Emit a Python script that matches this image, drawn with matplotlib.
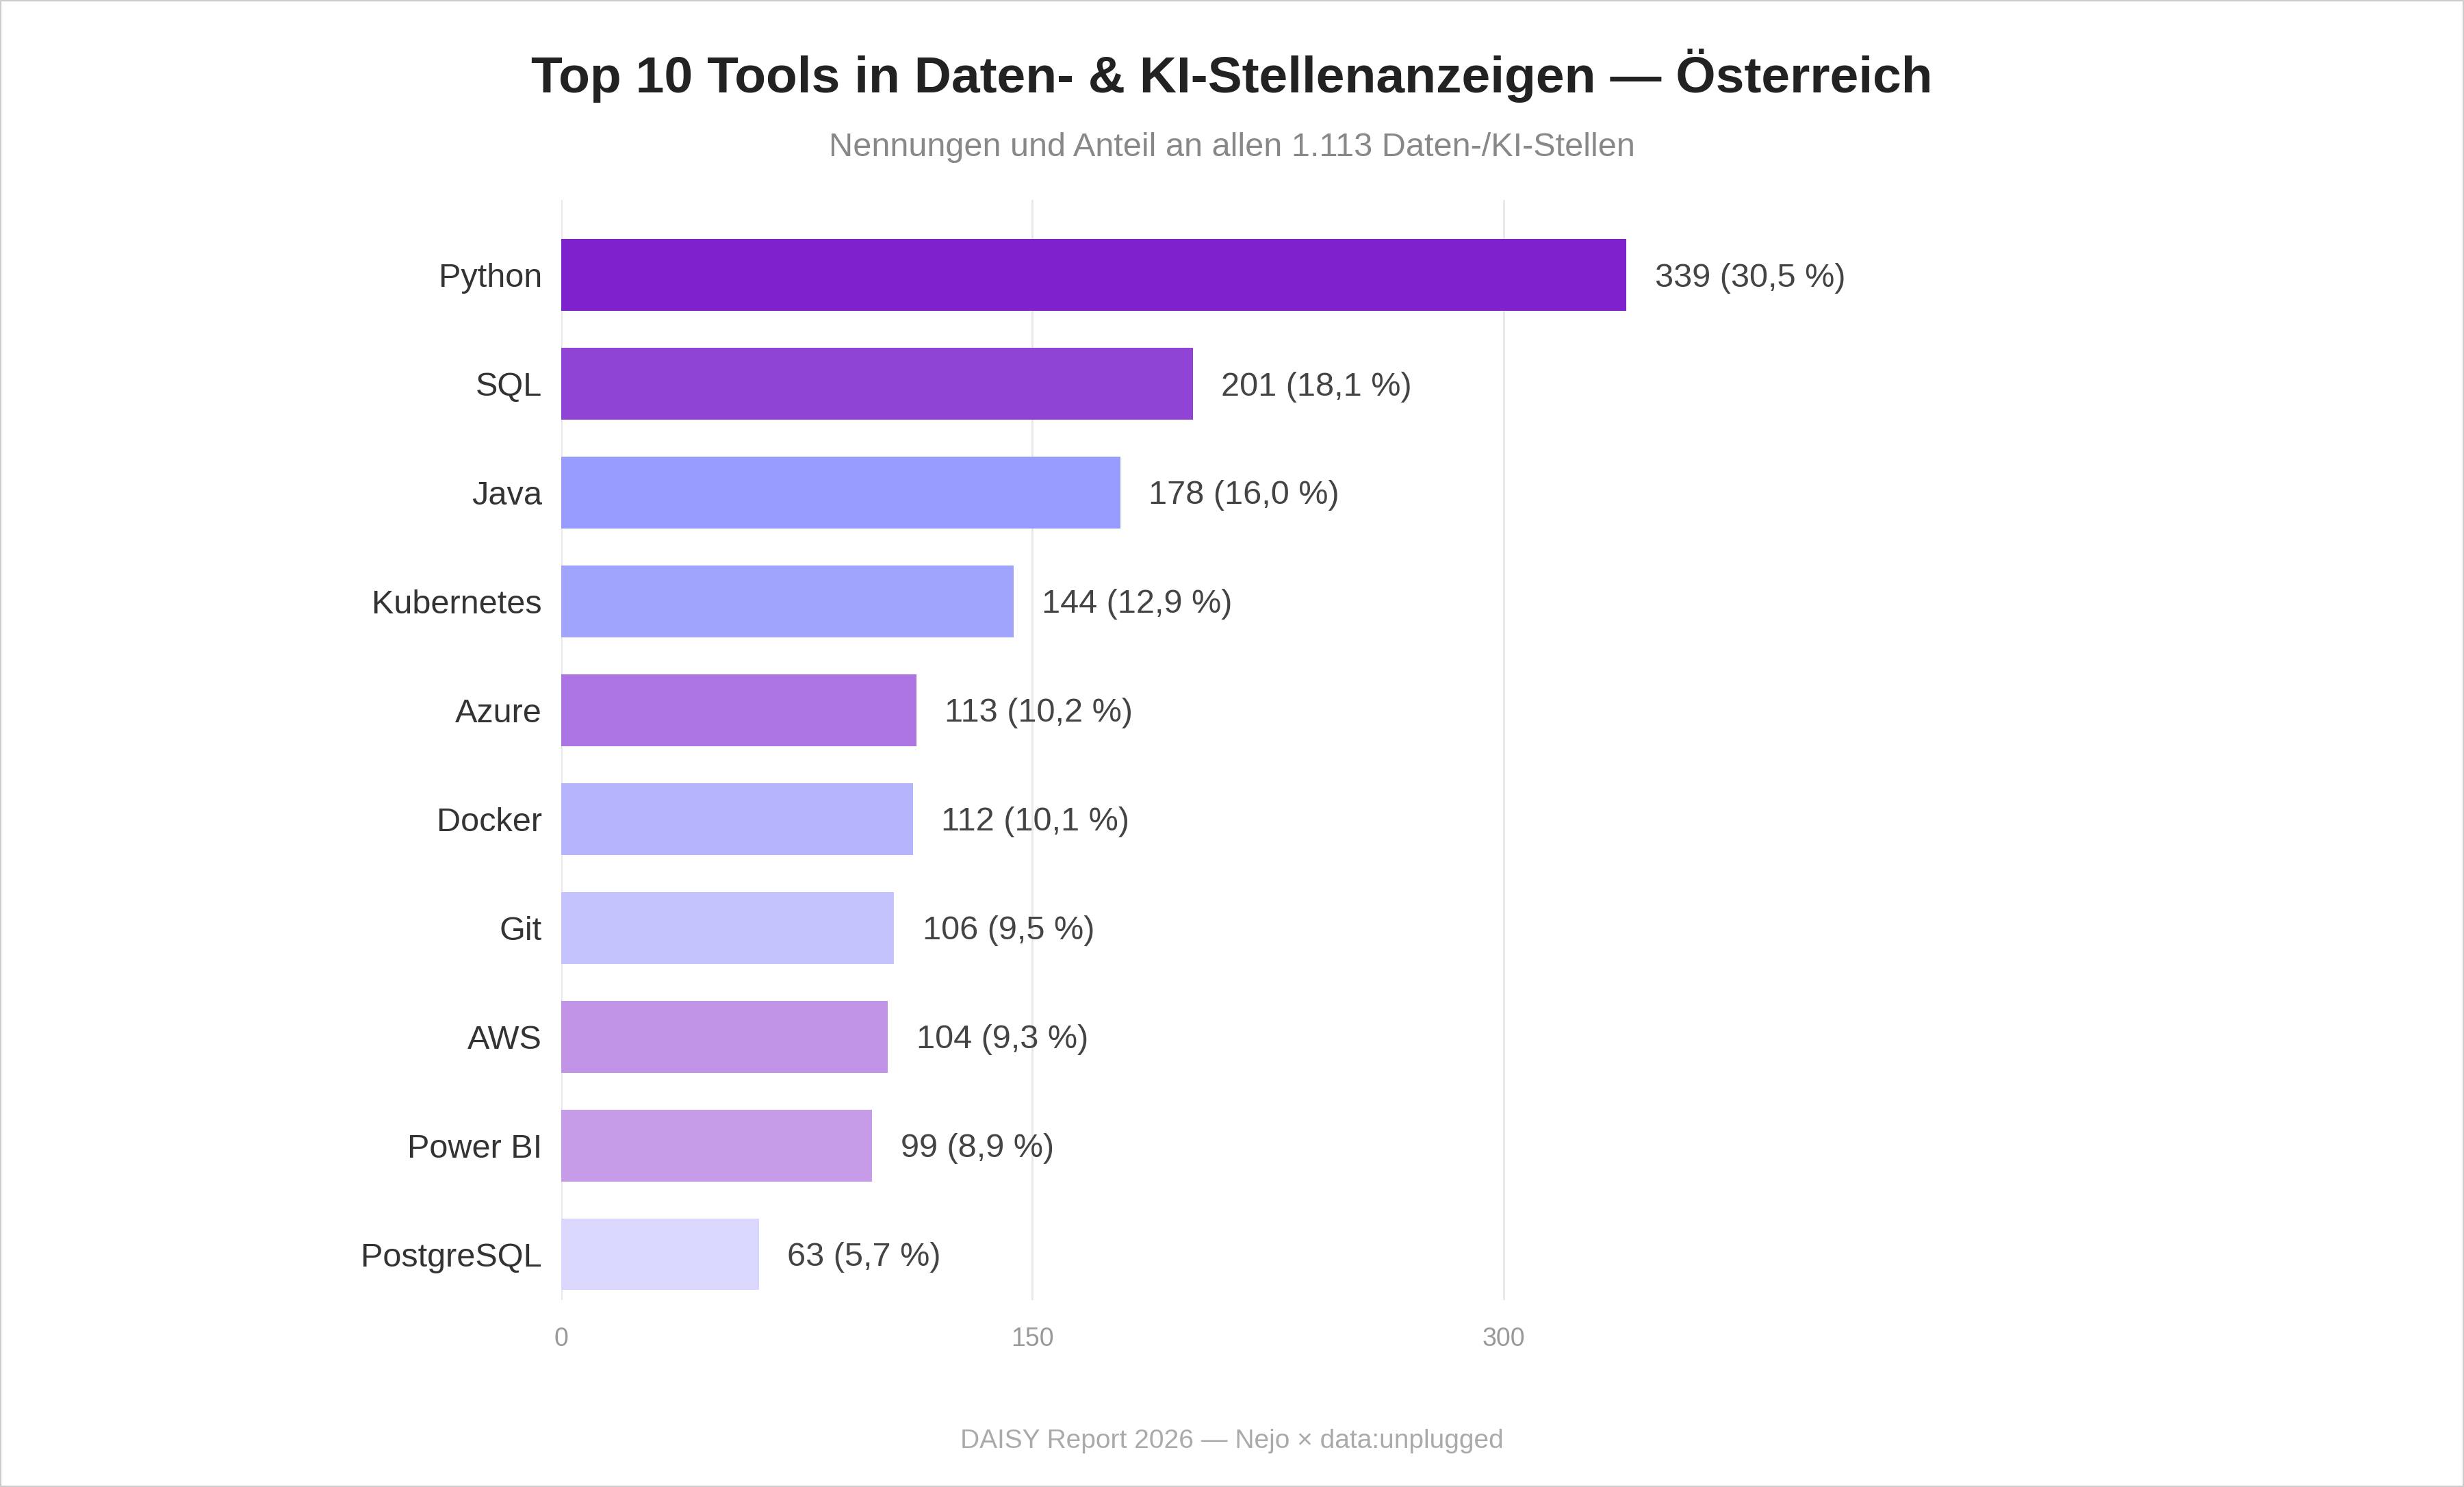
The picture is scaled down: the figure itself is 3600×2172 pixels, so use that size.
import matplotlib
matplotlib.use("Agg")
import matplotlib.pyplot as plt
from matplotlib.patches import Rectangle

plt.rcParams['font.family'] = ['Liberation Sans', 'DejaVu Sans']

tools = ["Python", "SQL", "Java", "Kubernetes", "Azure", "Docker", "Git", "AWS", "Power BI", "PostgreSQL"]
counts = [339, 201, 178, 144, 113, 112, 106, 104, 99, 63]
shares = ["30,5", "18,1", "16,0", "12,9", "10,2", "10,1", "9,5", "9,3", "8,9", "5,7"]
colors = ["#7E22CE", "#8F44D6", "#979BFD", "#A1A4FC", "#AB74E2",
          "#B6B4FD", "#C4C3FE", "#C193E6", "#C69BE8", "#D9D7FD"]
ticks = [0, 150, 300]

W, H = 1568, 946
fig = plt.figure(figsize=(18, 10.86), dpi=200)
ax = fig.add_axes([357 / W, 1 - 827 / H, (1450 - 357) / W, (827 - 127) / H])

y = list(range(len(tools)))
ax.barh(y, counts, height=0.66, color=colors, zorder=3)
for i, (c, s) in enumerate(zip(counts, shares)):
    ax.text(c + 9, i + 0.03, f"{c} ({s} %)", va="center", ha="left",
            fontsize=17.5, color="#444444")

ax.set_ylim(len(tools) - 1 + 0.42, -0.69)
ax.set_xlim(0, (1450 - 357) / 2)
ax.set_yticks(y)
ax.set_yticklabels(tools, fontsize=17.5, color="#333333")
ax.set_xticks(ticks)
ax.set_xticklabels([str(t) for t in ticks], fontsize=13.5, color="#999999")
ax.tick_params(axis="both", length=0)
ax.tick_params(axis="y", pad=10)
ax.tick_params(axis="x", pad=14)
for sp in ax.spines.values():
    sp.set_visible(False)
ax.grid(axis="x", color="#e8e8e8", linewidth=1, zorder=0)

fig.text(0.5, 1 - 48 / H, "Top 10 Tools in Daten- & KI-Stellenanzeigen — Österreich",
         ha="center", va="center", fontsize=27, fontweight="bold", color="#222222")
fig.text(0.5, 1 - 94 / H, "Nennungen und Anteil an allen 1.113 Daten-/KI-Stellen",
         ha="center", va="center", fontsize=17.5, color="#888888")
fig.text(0.5, 1 - 917 / H, "DAISY Report 2026 — Nejo × data:unplugged",
         ha="center", va="center", fontsize=14, color="#aaaaaa")
fig.patches.append(Rectangle((0, 0), 1, 1, transform=fig.transFigure, fill=False,
                             edgecolor="#cccccc", linewidth=1.5))

fig.savefig("out.png", dpi=200)
